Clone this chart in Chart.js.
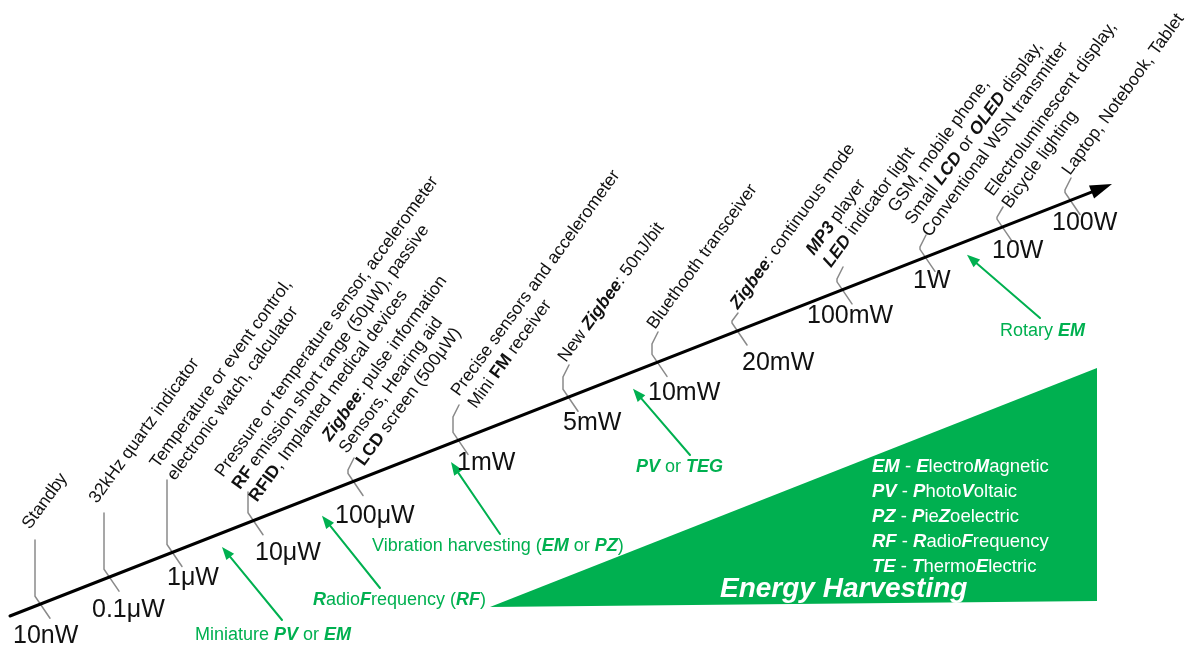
<!DOCTYPE html>
<html>
<head>
<meta charset="utf-8">
<script src="https://cdn.jsdelivr.net/npm/chart.js@4.4.1/dist/chart.umd.min.js"></script>
<style>
  html, body { margin: 0; padding: 0; background: #ffffff; }
  #wrap { width: 1199px; height: 650px; }
</style>
</head>
<body>
<div id="wrap"><canvas id="c" width="1199" height="650"></canvas></div>
<script>
// ---------------- DATA ----------------
// power levels along the arrow and their position on the (log-like) axis
const levels = ['10nW','0.1μW','1μW','10μW','100μW','1mW','5mW','10mW','20mW','100mW','1W','10W','100W'];
const levelPos = [40, 109, 172, 253, 353, 458, 568, 657, 737, 842, 925, 1002, 1070];

// applications per power level (*x* = bold, ~x~ = bold italic)
const applications = [
  ['Standby'],
  ['32kHz quartz indicator'],
  ['Temperature or event control,', 'electronic watch, calculator'],
  ['Pressure or temperature sensor, accelerometer', '*RF* emission short range (50μW), passive', '*RFID*, Implanted medical devices'],
  ['~Zigbee~: pulse information', 'Sensors, Hearing aid', '*LCD* screen (500μW)'],
  ['Precise sensors and accelerometer', 'Mini *FM* receiver'],
  ['New ~Zigbee~: 50nJ/bit'],
  ['Bluethooth transceiver'],
  ['~Zigbee~: continuous mode'],
  ['~MP3~ player', '~LED~ indicator light'],
  ['GSM, mobile phone,', 'Small ~LCD~ or ~OLED~ display,', 'Conventional WSN transmitter'],
  ['Electroluminescent display,', 'Bicycle lighting'],
  ['Laptop, Notebook, Tablet']
];

// energy harvesting techniques and the axis position they point at
const harvesters = ['Miniature ~PV~ or ~EM~', '~R~adio~F~requency (~RF~)', 'Vibration harvesting (~EM~ or ~PZ~)', '~PV~ or ~TEG~', 'Rotary ~EM~'];
const harvesterPos = [222, 322, 451, 633, 967];

const abbreviations = ['~EM~ - ~E~lectro~M~agnetic', '~PV~ - ~P~hoto~V~oltaic', '~PZ~ - ~P~ie~Z~oelectric', '~RF~ - ~R~adio~F~requency', '~TE~ - ~T~hermo~E~lectric'];
const areaTitle = 'Energy Harvesting';

// ---------------- LAYOUT / STYLE ----------------
const FONT = '"Liberation Sans", Arial, Helvetica, sans-serif';
const GREEN = '#00B050';
const AXIS = { x0: 10, y0: 616, x1: 1112, y1: 184 };
const slope = (AXIS.y1 - AXIS.y0) / (AXIS.x1 - AXIS.x0);
const axisY = x => AXIS.y0 + (x - AXIS.x0) * slope;

const leaderTop  = [540, 513, 480, 492, 458, 405, 365, 332, 313, 267, 235, 207, 178];
const leaderHook = [0, 0, 0, 0, 1, 1, 1, 1, 1, 1, 1, 1, 1];
const appDx = [-10, -12, -14, -30, -23, 1, -2, -2, 1, -28, -29, -9, 0];
const appDy = [-10, -9, -11, -14, -16, -8, -2, -2, -3, -11, -22, -10, -2];
const valDx = [-27, -17, -5, 2, -18, -1, -5, -9, 5, -35, -12, -10, -18];
const valDy = [39, 40, 33, 39, 41, 30, 33, 38, 39, 33, 31, 31, 30];

const harvTipDy = [14, 22, 19, 17, 14];
const harvTail = [[282, 620], [380, 588], [500, 534], [690, 455], [1040, 318]];
const harvLabel = [[195, 640], [313, 605], [372, 551], [636, 472], [1000, 336]];

const TRI = [[490, 607], [1097, 368], [1097, 601]];

// ---------------- DATASETS ----------------
const dir = (() => { const dx = AXIS.x1 - AXIS.x0, dy = AXIS.y1 - AXIS.y0, L = Math.hypot(dx, dy); return [dx / L, dy / L]; })();
const HEAD = 22;
const datasets = [];

datasets.push({
  label: 'axis', type: 'line', showLine: true,
  data: [{ x: AXIS.x0, y: AXIS.y0 }, { x: AXIS.x1 - dir[0] * (HEAD - 2), y: AXIS.y1 - dir[1] * (HEAD - 2) }],
  borderColor: '#000', borderWidth: 3, pointRadius: 0, tension: 0, order: 1
});

levels.forEach((lv, i) => {
  const cx = levelPos[i], cy = axisY(cx);
  const p2 = { x: cx - 5, y: cy - 8 };
  const p3 = { x: cx + 10, y: cy + 14 };
  let pts;
  if (leaderHook[i]) {
    const top = leaderTop[i];
    pts = [{ x: p2.x + 6, y: top }, { x: p2.x, y: Math.min(top + 12, p2.y - 2) }, p2, p3];
  } else {
    pts = [{ x: p2.x, y: leaderTop[i] }, p2, p3];
  }
  datasets.push({
    label: 'leader ' + lv, type: 'line', showLine: true, data: pts,
    borderColor: '#8a8a8a', borderWidth: 1.5, pointRadius: 0, tension: 0, order: 2
  });
});

harvesters.forEach((h, i) => {
  const tip = { x: harvesterPos[i], y: axisY(harvesterPos[i]) + harvTipDy[i] };
  const tail = { x: harvTail[i][0], y: harvTail[i][1] };
  const L = Math.hypot(tip.x - tail.x, tip.y - tail.y);
  const ux = (tip.x - tail.x) / L, uy = (tip.y - tail.y) / L;
  datasets.push({
    label: 'harvest ' + i, type: 'line', showLine: true,
    data: [tail, { x: tip.x - ux * 10, y: tip.y - uy * 10 }],
    borderColor: GREEN, borderWidth: 2, pointRadius: 0, tension: 0, order: 3,
    _tip: tip, _u: [ux, uy]
  });
});

// ---------------- RICH TEXT ----------------
function drawRich(ctx, text, x, y, size, color, angle) {
  const parts = text.split(/(~[^~]+~|\*[^*]+\*)/).filter(s => s.length);
  ctx.save();
  ctx.translate(x, y);
  if (angle) ctx.rotate(angle);
  ctx.fillStyle = color;
  ctx.textBaseline = 'alphabetic';
  ctx.textAlign = 'left';
  let px = 0;
  parts.forEach(p => {
    let t = p, f = size + 'px ' + FONT;
    if (p[0] === '~') { t = p.slice(1, -1); f = 'italic bold ' + size + 'px ' + FONT; }
    else if (p[0] === '*') { t = p.slice(1, -1); f = 'bold ' + size + 'px ' + FONT; }
    ctx.font = f;
    ctx.fillText(t, px, 0);
    px += ctx.measureText(t).width;
  });
  ctx.restore();
}

const diagram = {
  id: 'diagram',
  beforeDatasetsDraw(chart) {
    const { ctx, scales: { x, y } } = chart;
    ctx.save();
    ctx.beginPath();
    TRI.forEach((p, k) => { const px = x.getPixelForValue(p[0]), py = y.getPixelForValue(p[1]); k ? ctx.lineTo(px, py) : ctx.moveTo(px, py); });
    ctx.closePath();
    ctx.fillStyle = GREEN;
    ctx.fill();
    ctx.restore();
  },
  afterDatasetsDraw(chart) {
    const { ctx, scales: { x, y } } = chart;
    const X = v => x.getPixelForValue(v), Y = v => y.getPixelForValue(v);
    // main arrow head
    ctx.save();
    const tx = X(AXIS.x1), ty = Y(AXIS.y1);
    const bx = tx - dir[0] * HEAD, by = ty - dir[1] * HEAD;
    ctx.beginPath();
    ctx.moveTo(tx, ty);
    ctx.lineTo(bx - dir[1] * 7, by + dir[0] * 7);
    ctx.lineTo(bx + dir[1] * 7, by - dir[0] * 7);
    ctx.closePath();
    ctx.fillStyle = '#000';
    ctx.fill();
    ctx.restore();

    // green arrow heads
    chart.data.datasets.forEach(ds => {
      if (!ds._tip) return;
      const tpx = X(ds._tip.x), tpy = Y(ds._tip.y);
      const [ux, uy] = ds._u;
      const hb = 13, hw = 5;
      ctx.save();
      ctx.beginPath();
      ctx.moveTo(tpx, tpy);
      ctx.lineTo(tpx - ux * hb - uy * hw, tpy - uy * hb + ux * hw);
      ctx.lineTo(tpx - ux * hb + uy * hw, tpy - uy * hb - ux * hw);
      ctx.closePath();
      ctx.fillStyle = GREEN;
      ctx.fill();
      ctx.restore();
    });

    // value labels
    levels.forEach((lv, i) => {
      const cx = levelPos[i], cy = axisY(cx);
      drawRich(ctx, lv, X(cx + valDx[i]), Y(cy + valDy[i]), 25, '#111', 0);
    });

    // application texts (rotated)
    const ang = -54 * Math.PI / 180;
    const vx = Math.sin(-ang), vy = Math.cos(-ang);
    applications.forEach((lines, i) => {
      const ox = levelPos[i] + appDx[i], oy = leaderTop[i] + appDy[i];
      lines.forEach((ln, k) => {
        drawRich(ctx, ln, X(ox + vx * 21 * k), Y(oy + vy * 21 * k), 17.5, '#111', ang);
      });
    });

    // harvester labels
    harvesters.forEach((h, i) => {
      drawRich(ctx, h, X(harvLabel[i][0]), Y(harvLabel[i][1]), 18, GREEN, 0);
    });

    // abbreviations inside triangle
    abbreviations.forEach((a, i) => {
      drawRich(ctx, a, X(872), Y(472 + 25 * i), 18.5, '#ffffff', 0);
    });
    drawRich(ctx, '~' + areaTitle + '~', X(720), Y(597), 28, '#ffffff', 0);
  }
};

new Chart(document.getElementById('c'), {
  type: 'scatter',
  data: { datasets },
  options: {
    responsive: false,
    animation: false,
    devicePixelRatio: 1,
    layout: { padding: 0 },
    plugins: { legend: { display: false }, tooltip: { enabled: false } },
    scales: {
      x: { type: 'linear', min: 0, max: 1199, display: false },
      y: { type: 'linear', min: 0, max: 650, reverse: true, display: false }
    },
    elements: { line: { borderCapStyle: 'round' } }
  },
  plugins: [diagram]
});
</script>
</body>
</html>
